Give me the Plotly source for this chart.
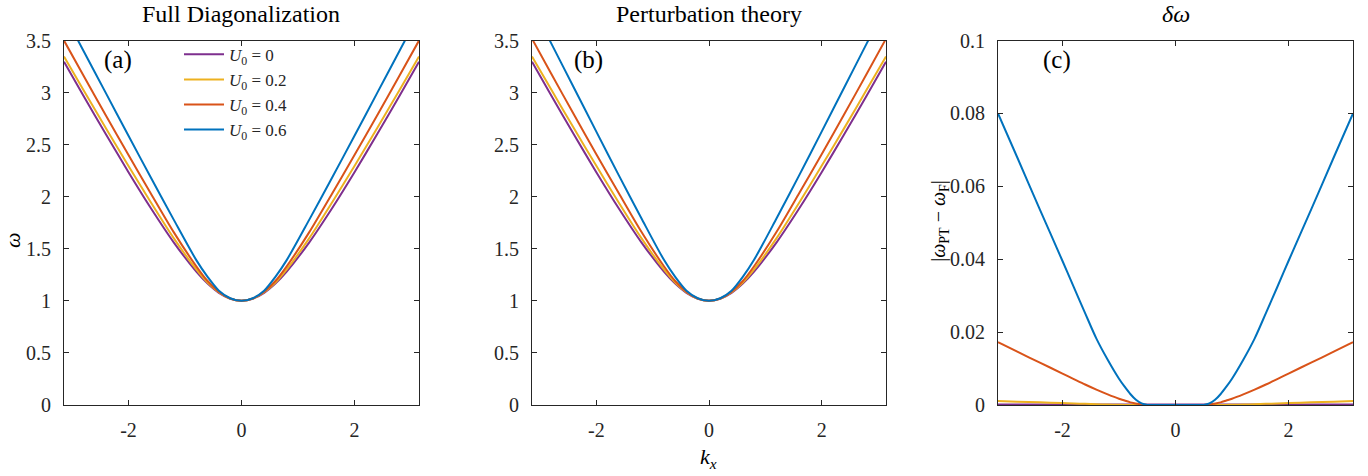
import plotly.graph_objects as go

# ---------------- data ----------------
k_ab = [-3.1416, -2.8, -2.4, -2.0, -1.6, -1.2, -0.8, -0.6, -0.4, -0.2, 0.0,
        0.2, 0.4, 0.6, 0.8, 1.2, 1.6, 2.0, 2.4, 2.8, 3.1416]

# (a) Full diagonalization
fd_u00 = [3.297, 2.973, 2.600, 2.236, 1.887, 1.562, 1.281, 1.166, 1.077, 1.020, 1.000,
          1.020, 1.077, 1.166, 1.281, 1.562, 1.887, 2.236, 2.600, 2.973, 3.297]
fd_u02 = [3.347, 3.028, 2.658, 2.296, 1.942, 1.602, 1.301, 1.175, 1.082, 1.021, 1.000,
          1.021, 1.082, 1.175, 1.301, 1.602, 1.942, 2.296, 2.658, 3.028, 3.347]
fd_u04 = [3.500, 3.166, 2.780, 2.400, 2.027, 1.660, 1.331, 1.190, 1.087, 1.022, 1.000,
          1.022, 1.087, 1.190, 1.331, 1.660, 2.027, 2.400, 2.780, 3.166, 3.500]
fd_u06 = [3.755, 3.405, 2.995, 2.585, 2.180, 1.780, 1.391, 1.230, 1.097, 1.025, 1.000,
          1.025, 1.097, 1.230, 1.391, 1.780, 2.180, 2.585, 2.995, 3.405, 3.755]

# (b) Perturbation theory
pt_u00 = [3.297, 2.973, 2.600, 2.236, 1.887, 1.562, 1.281, 1.166, 1.077, 1.020, 1.000,
          1.020, 1.077, 1.166, 1.281, 1.562, 1.887, 2.236, 2.600, 2.973, 3.297]
pt_u02 = [3.348, 3.029, 2.659, 2.297, 1.942, 1.602, 1.301, 1.175, 1.082, 1.021, 1.000,
          1.021, 1.082, 1.175, 1.301, 1.602, 1.942, 2.297, 2.659, 3.029, 3.348]
pt_u04 = [3.517, 3.181, 2.792, 2.409, 2.033, 1.663, 1.332, 1.190, 1.087, 1.022, 1.000,
          1.022, 1.087, 1.190, 1.332, 1.663, 2.033, 2.409, 2.792, 3.181, 3.517]
pt_u06 = [3.835, 3.473, 3.049, 2.625, 2.205, 1.793, 1.394, 1.230, 1.097, 1.025, 1.000,
          1.025, 1.097, 1.230, 1.394, 1.793, 2.205, 2.625, 3.049, 3.473, 3.835]

# (c) |omega_PT - omega_F|
k_c = [-3.1416, -2.8, -2.4, -2.0, -1.8, -1.6, -1.4, -1.2, -1.0, -0.9, -0.8, -0.7, -0.6,
       -0.5, -0.4, -0.25, 0.0, 0.25, 0.4, 0.5,
       0.6, 0.7, 0.8, 0.9, 1.0, 1.2, 1.4, 1.6, 1.8, 2.0, 2.4, 2.8, 3.1416]
dw_u00 = [0.0] * 33
dw_u02 = [0.0011, 0.0009, 0.0007, 0.0005, 0.0004, 0.0003, 0.0002, 0.0001, 0.00005, 0.0, 0.0, 0.0, 0.0,
          0.0, 0.0, 0.0, 0.0, 0.0, 0.0, 0.0,
          0.0, 0.0, 0.0, 0.0, 0.00005, 0.0001, 0.0002, 0.0003, 0.0004, 0.0005, 0.0007, 0.0009, 0.0011]
dw_u04 = [0.0172, 0.0146, 0.0116, 0.0086, 0.0071, 0.0056, 0.0042, 0.0029, 0.0017, 0.0012, 0.0007, 0.0004, 0.0001,
          0.0, 0.0, 0.0, 0.0, 0.0, 0.0, 0.0,
          0.0001, 0.0004, 0.0007, 0.0012, 0.0017, 0.0029, 0.0042, 0.0056, 0.0071, 0.0086, 0.0116, 0.0146, 0.0172]
dw_u06 = [0.0800, 0.0679, 0.0536, 0.0395, 0.0323, 0.0252, 0.0182, 0.0124, 0.0072, 0.0050, 0.0030, 0.0014, 0.0004,
          0.0, 0.0, 0.0, 0.0, 0.0, 0.0, 0.0,
          0.0004, 0.0014, 0.0030, 0.0050, 0.0072, 0.0124, 0.0182, 0.0252, 0.0323, 0.0395, 0.0536, 0.0679, 0.0800]

series_names = ["<i>U</i><sub>0</sub> = 0", "<i>U</i><sub>0</sub> = 0.2",
                "<i>U</i><sub>0</sub> = 0.4", "<i>U</i><sub>0</sub> = 0.6"]
colors = ["#7E2F8E", "#EDB120", "#D95319", "#0072BD"]

x_tickvals = [-2, 0, 2]
x_ticktext = ["-2", "0", "2"]
y_tickvals_ab = [0, 0.5, 1, 1.5, 2, 2.5, 3, 3.5]
y_ticktext_ab = ["0", "0.5", "1", "1.5", "2", "2.5", "3", "3.5"]
y_tickvals_c = [0, 0.02, 0.04, 0.06, 0.08, 0.1]
y_ticktext_c = ["0", "0.02", "0.04", "0.06", "0.08", "0.1"]

titles = ["Full Diagonalization", "Perturbation theory", "<i>δω</i>"]
panel_labels = ["(a)", "(b)", "(c)"]

# ---------------- figure ----------------
FONT = "Liberation Serif"
TXT = "#262626"
fig = go.Figure()

fd = [fd_u00, fd_u02, fd_u04, fd_u06]
pt = [pt_u00, pt_u02, pt_u04, pt_u06]
dw = [dw_u00, dw_u02, dw_u04, dw_u06]

for i in range(4):
    fig.add_trace(go.Scatter(x=k_ab, y=fd[i], mode="lines", name=series_names[i],
                             line=dict(color=colors[i], width=2, shape="spline", smoothing=0.8),
                             xaxis="x", yaxis="y", showlegend=True, legendgroup=str(i)))
for i in range(4):
    fig.add_trace(go.Scatter(x=k_ab, y=pt[i], mode="lines", name=series_names[i],
                             line=dict(color=colors[i], width=2, shape="spline", smoothing=0.8),
                             xaxis="x2", yaxis="y2", showlegend=False, legendgroup=str(i)))
for i in range(4):
    fig.add_trace(go.Scatter(x=k_c, y=dw[i], mode="lines", name=series_names[i],
                             line=dict(color=colors[i], width=3 if i == 0 else 2,
                                       shape="spline", smoothing=0.8),
                             xaxis="x3", yaxis="y3", showlegend=False, legendgroup=str(i)))

x_domains = [[64 / 1368, 419 / 1368], [532 / 1368, 886 / 1368], [998 / 1368, 1353 / 1368]]
y_domain = [1 - 413 / 476, 1 - 31 / 476]

axis_common = dict(showline=True, linecolor=TXT, linewidth=1, mirror="ticks",
                   ticks="inside", ticklen=5, tickcolor=TXT, tickwidth=1,
                   showgrid=False, zeroline=False,
                   tickfont=dict(family=FONT, size=20, color=TXT))

layout = dict(
    width=1368, height=476,
    margin=dict(l=0, r=0, t=0, b=0),
    paper_bgcolor="white", plot_bgcolor="white",
    font=dict(family=FONT, color=TXT),
    legend=dict(x=179 / 1368, y=1 - 27 / 476, xanchor="left", yanchor="top",
                bgcolor="rgba(0,0,0,0)", borderwidth=0, itemwidth=40,
                font=dict(family=FONT, size=17, color=TXT), tracegroupgap=0),
)
for j, (xa, ya, yr) in enumerate([("xaxis", "yaxis", [0, 3.5]),
                                    ("xaxis2", "yaxis2", [0, 3.5]),
                                    ("xaxis3", "yaxis3", [0, 0.1])]):
    anchor_y = "y" if j == 0 else "y%d" % (j + 1)
    anchor_x = "x" if j == 0 else "x%d" % (j + 1)
    layout[xa] = dict(axis_common, domain=x_domains[j], range=[-3.1416, 3.1416],
                      tickvals=x_tickvals, ticktext=x_ticktext, anchor=anchor_y,
                      ticklabelstandoff=7)
    if j < 2:
        layout[ya] = dict(axis_common, domain=y_domain, range=yr, anchor=anchor_x,
                          tickvals=y_tickvals_ab, ticktext=y_ticktext_ab,
                          ticklabelstandoff=8)
    else:
        layout[ya] = dict(axis_common, domain=y_domain, range=yr, anchor=anchor_x,
                          tickvals=y_tickvals_c, ticktext=y_ticktext_c,
                          ticklabelstandoff=8)
fig.update_layout(**layout)

ann = []
title_x = [241, 709, 1176]
for j in range(3):
    ann.append(dict(text=titles[j], x=title_x[j] / 1368, y=1 - 3 / 476, xref="paper", yref="paper",
                    showarrow=False, xanchor="center", yanchor="middle",
                    font=dict(family=FONT, size=24, color="black")))
label_x = [118, 588, 1057]
for j in range(3):
    ann.append(dict(text=panel_labels[j], x=label_x[j] / 1368, y=1 - 51 / 476, xref="paper", yref="paper",
                    showarrow=False, xanchor="center", yanchor="middle",
                    font=dict(family=FONT, size=25, color="black")))
ann.append(dict(text="<i>ω</i>", x=13 / 1368, y=1 - 240 / 476, xref="paper", yref="paper",
                showarrow=False, textangle=-90, xanchor="center", yanchor="middle",
                font=dict(family=FONT, size=22, color="black")))
ann.append(dict(text="<i>k</i><sub><i>x</i></sub>", x=708 / 1368, y=1 - 469 / 476, xref="paper", yref="paper",
                showarrow=False, xanchor="center", yanchor="middle",
                font=dict(family=FONT, size=22, color="black")))
ann.append(dict(text="|<i>ω</i><sub>PT</sub> − <i>ω</i><sub>F</sub>|", x=940 / 1368, y=1 - 220 / 476,
                xref="paper", yref="paper", showarrow=False, textangle=-90,
                xanchor="center", yanchor="middle",
                font=dict(family=FONT, size=20, color="black")))
fig.update_layout(annotations=ann)

fig.write_html("out.html")
